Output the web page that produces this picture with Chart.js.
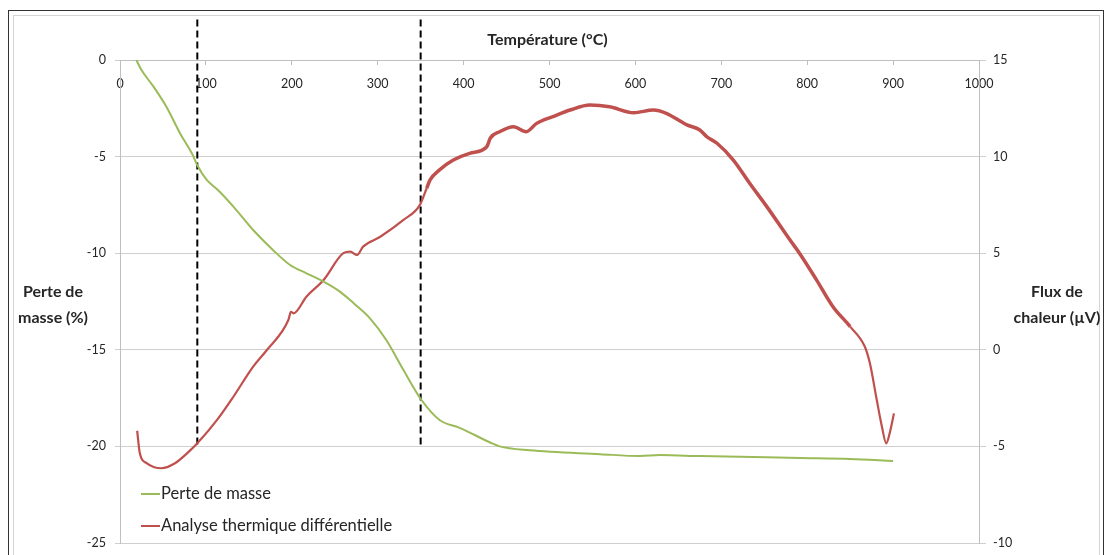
<!DOCTYPE html>
<html>
<head>
<meta charset="utf-8">
<script src="https://cdn.jsdelivr.net/npm/chart.js@4/dist/chart.umd.min.js"></script>
<style>
  body { margin: 0; background: #fff; }
  #wrap { width: 1106px; height: 555px; }
</style>
</head>
<body>
<div id="wrap"><canvas id="atd" width="1106" height="555"></canvas></div>
<script>
// Perte de masse (%) vs température
const massTemp = [19, 25, 39, 54, 70, 85, 90, 101, 114, 132, 155, 178, 198, 217, 237, 256, 272, 291, 310, 330, 351, 372, 396, 431, 442, 477, 559, 605, 629, 675, 792, 850, 900];
const massLoss = [0, -0.52, -1.38, -2.42, -3.8, -4.95, -5.45, -6.21, -6.73, -7.59, -8.8, -9.83, -10.61, -11.04, -11.47, -11.99, -12.59, -13.37, -14.49, -16.05, -17.6, -18.63, -19.05, -19.8, -20.0, -20.2, -20.4, -20.5, -20.45, -20.5, -20.6, -20.65, -20.75];

// Flux de chaleur (µV) vs température
const dtaTemp = [20, 23, 31, 48, 64, 78, 90, 113, 132, 155, 171, 196, 199, 202, 217, 237, 260, 268, 276, 283, 303, 330, 349, 357, 361, 372, 388, 407, 427, 431, 442, 458, 473, 485, 504, 524, 547, 570, 598, 621, 636, 660, 675, 683, 695, 714, 733, 753, 780, 791, 811, 830, 850, 867, 873, 881, 887, 892, 896, 901];
const dtaFlux = [-4.19, -5.34, -5.86, -6.13, -5.87, -5.36, -4.84, -3.63, -2.43, -0.87, -0.01, 1.54, 1.97, 1.89, 2.75, 3.61, 5.0, 5.08, 4.91, 5.34, 5.85, 6.72, 7.49, 8.36, 8.79, 9.31, 9.82, 10.17, 10.51, 10.95, 11.29, 11.55, 11.29, 11.72, 12.07, 12.41, 12.67, 12.58, 12.27, 12.41, 12.24, 11.64, 11.38, 11.03, 10.69, 9.82, 8.62, 7.41, 5.68, 5.0, 3.61, 2.23, 1.2, 0.17, -0.7, -2.6, -3.98, -4.84, -4.32, -3.29];

// vertical dashed markers (°C) and their extent on the left axis
const guideTemps = [90, 350];
const guideTop = 2.1;
const guideBottom = -20;

const xTicks = [0, 100, 200, 300, 400, 500, 600, 700, 800, 900, 1000];
const leftRange = [-25, 0];
const rightRange = [-10, 15];

const seriesNames = ['Perte de masse', 'Analyse thermique différentielle'];
const seriesColors = ['#9bbb59', '#c0504d'];

const FONT = 'Lato';
const TXT = '#262626';

function pts(xs, ys) {
  return xs.map((x, i) => ({ x: x, y: ys[i] }));
}

const datasets = [
  {
    label: seriesNames[0],
    data: pts(massTemp, massLoss),
    yAxisID: 'y',
    borderColor: seriesColors[0],
    borderWidth: 2,
    pointRadius: 0,
    cubicInterpolationMode: 'monotone'
  },
  {
    label: seriesNames[1],
    data: pts(dtaTemp, dtaFlux),
    yAxisID: 'y1',
    borderColor: seriesColors[1],
    borderWidth: 2,
    pointRadius: 0,
    cubicInterpolationMode: 'monotone',
    segment: {
      borderWidth: c => c.p0.parsed.x > 355 && c.p1.parsed.x < 866 ? 3.5 : 2.2
    }
  }
];

guideTemps.forEach(t => {
  datasets.push({
    label: '',
    data: [{ x: t, y: guideTop }, { x: t, y: guideBottom }],
    yAxisID: 'y',
    borderColor: '#000',
    borderWidth: 2,
    borderDash: [7, 4],
    pointRadius: 0,
    clip: false
  });
});

const frame = {
  id: 'frame',
  beforeDraw(chart) {
    const c = chart.ctx;
    c.save();
    c.fillStyle = '#fff';
    c.fillRect(0, 0, chart.width, chart.height);
    c.strokeStyle = '#d4d4d4';
    c.lineWidth = 1;
    c.strokeRect(13.5, 15.5, 1086, 560);
    c.strokeStyle = '#333';
    c.strokeRect(8.5, 10.5, 1095, 560);
    c.restore();
  },
  afterDraw(chart) {
    const c = chart.ctx;
    const a = chart.chartArea;
    c.save();
    c.fillStyle = TXT;
    c.font = 'bold 16px ' + FONT;
    c.textAlign = 'center';
    c.textBaseline = 'middle';
    c.fillText('Température (°C)', (a.left + a.right) / 2 - 2, 40);
    c.fillText('Perte de', 53, 292);
    c.fillText('masse (%)', 53, 318);
    c.fillText('Flux de', 1057, 292);
    c.fillText('chaleur (µV)', 1057, 318);

    // legend inside the plot, bottom left
    c.font = '16.5px ' + FONT;
    c.textAlign = 'left';
    const rows = [494, 526];
    for (let i = 0; i < 2; i++) {
      c.strokeStyle = seriesColors[i];
      c.lineWidth = 2;
      c.beginPath();
      c.moveTo(141, rows[i]);
      c.lineTo(160, rows[i]);
      c.stroke();
      c.fillText(seriesNames[i], 161, rows[i]);
    }
    c.restore();
  }
};

// keep the tick padding from pushing the plot area up
function fixWidth(w) {
  return s => {
    s.width = w;
    s.paddingTop = 6;
    s.paddingBottom = 6;
  };
}

new Chart(document.getElementById('atd'), {
  type: 'line',
  data: { datasets: datasets },
  plugins: [frame],
  options: {
    responsive: false,
    animation: false,
    layout: { padding: { left: 0, right: 0, top: 60, bottom: 12 } },
    plugins: {
      legend: { display: false },
      title: { display: false },
      tooltip: { enabled: false }
    },
    scales: {
      x: {
        type: 'linear',
        position: { y: 0 },
        min: 0,
        max: 1000,
        afterBuildTicks: s => { s.ticks = xTicks.map(v => ({ value: v })); },
        ticks: {
          color: TXT,
          font: { family: FONT, size: 12.5 },
          padding: 12,
          maxRotation: 0,
          callback: v => String(v)
        },
        grid: { drawOnChartArea: false, tickLength: 4, color: '#bfbfbf' },
        border: { display: true, color: '#bfbfbf' }
      },
      y: {
        position: 'left',
        min: leftRange[0],
        max: leftRange[1],
        ticks: { stepSize: 5, color: TXT, font: { family: FONT, size: 12.5 }, padding: 9 },
        grid: { color: '#cfcfcf', tickLength: 5 },
        border: { display: true, color: '#bfbfbf' },
        afterFit: fixWidth(120)
      },
      y1: {
        position: 'right',
        min: rightRange[0],
        max: rightRange[1],
        ticks: { stepSize: 5, color: TXT, font: { family: FONT, size: 12.5 }, padding: 7 },
        grid: { drawOnChartArea: false, tickLength: 7, color: '#cfcfcf' },
        border: { display: true, color: '#bfbfbf' },
        afterFit: fixWidth(127)
      }
    }
  }
});
</script>
</body>
</html>
